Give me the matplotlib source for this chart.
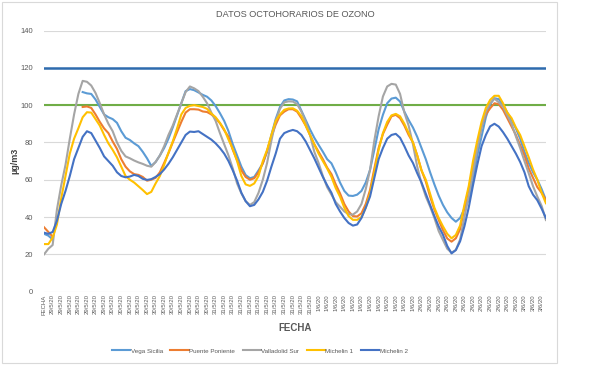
import numpy as np
import matplotlib
matplotlib.use("Agg")
import matplotlib.pyplot as plt
from matplotlib.patches import Rectangle

nan = np.nan

# Hourly 8-hour ozone averages, ug/m3 (first row of the sheet is labelled "FECHA")
days = [("29/5/20", 15), ("30/5/20", 24), ("31/5/20", 24),
        ("1/6/20", 24), ("2/6/20", 24), ("3/6/20", 6)]

vega_sicilia = [
    31, 30, 28, nan, nan, nan, nan, nan, nan, 107,
    106.3, 106, 103, 99, 95, 93.5, 92.5, 90.5, 86, 82.5,
    81.3, 79.5, 78, 75, 71.5, 67.4, 69.5, 73, 77, 82,
    88, 94.5, 101, 107.5, 108.6, 108, 106.8, 105.5, 104.5, 102.5,
    99.5, 95.7, 91.5, 86, 79, 73, 67, 62.5, 60.8, 61.5,
    65, 68.8, 75, 84, 92.5, 99, 102.5, 103.2, 103, 102,
    97, 92, 87, 82.5, 78.7, 75, 71, 68.8, 64, 58.5,
    54, 51.5, 51.3, 52, 54, 58.5, 65.3, 76, 87, 94.8,
    101, 103.5, 104, 101.9, 96.5, 92, 88, 83, 77, 71,
    64, 57.5, 51.5, 46.5, 42.5, 39.5, 37.5, 39.5, 44.5, 49.2,
    60, 73, 83.2, 93.5, 100.5, 103.7, 103.2, 100, 96, 92,
    87.5, 82, 75, 69, 64, 60, 55, 49.2]

puente_poniente = [
    34.5, 32, 29.5, nan, nan, nan, nan, nan, nan, 99,
    99.3, 98.5, 95, 91, 87.5, 85, 80.5, 76.5, 71, 67,
    64.5, 63, 62.6, 61.5, 59.5, 60, 61, 64, 69, 74.2,
    80, 85.5, 91, 96, 97.8, 97.8, 97.6, 96.6, 96.3, 95,
    93, 90.3, 86.5, 83, 76, 70.5, 65, 61.5, 60, 60.8,
    64, 68.8, 75.5, 83, 89.5, 94.5, 96.5, 97.8, 97.8, 96.5,
    93, 89, 84, 79, 75, 71, 66.5, 63, 57.5, 52.7,
    47, 43, 40.5, 40.3, 42, 47, 54.5, 66, 77, 84.5,
    89.5, 94, 94.8, 93, 89, 84, 80, 73, 65, 59,
    51, 44, 38.5, 33, 28.5, 26.8, 28.6, 33.5, 45, 55,
    66.5, 77.5, 88.5, 95, 98.3, 101, 100.5, 97.5, 93, 88.5,
    84, 78.5, 73, 66, 61, 56, 53, 49.2]

valladolid_sur = [
    20, 23, 25, 44, 57, 68, 82, 95, 106, 113,
    112.5, 110.5, 106.5, 101, 95, 90, 86, 80, 75.5, 72.5,
    71.5, 70.3, 69.3, 68.5, 67.5, 67, 69.5, 73, 78, 84,
    89, 95, 101, 107, 110, 109, 107.5, 104.5, 101, 96,
    91.5, 85, 79, 73, 66, 58, 52.7, 48.5, 46.5, 48,
    53, 60, 69, 81, 91.5, 98, 101.5, 102, 101.9, 100.5,
    96.5, 91, 84, 75, 69, 62, 56, 52, 48, 45.5,
    43, 41.5, 41.3, 43, 47, 55, 65.3, 81, 94, 104.6,
    110, 111.4, 111, 106, 96, 89, 79, 67, 58, 51,
    45.6, 39.5, 32.5, 27.7, 23, 20.9, 22.3, 28, 40, 51,
    64, 77, 88, 96.5, 101, 103.5, 101.5, 99.2, 94.5, 90,
    83.2, 77, 70, 63.4, 56.5, 51, 46, 38.4]

michelin_1 = [
    25.5, 25.5, 29, 36, 50, 62, 74, 82, 87.6, 93.5,
    96.2, 96, 92.5, 89, 84, 79.5, 76, 72, 67, 62,
    60, 58.5, 56.5, 54.5, 52.3, 53.5, 58, 62, 68, 74.5,
    80.5, 87.5, 95, 98.5, 99.6, 100, 99.5, 99, 98, 95.5,
    93.5, 90.5, 87, 81.5, 76.5, 70, 62, 57.5, 56.7, 58,
    62, 70, 76, 84, 91.5, 95, 97.5, 98.2, 98.3, 97,
    94, 89, 84, 79, 74, 70, 66, 61.5, 55.5, 50.9,
    45, 40.5, 38.5, 38.5, 40, 45, 52.7, 64, 76, 85,
    91, 94.5, 95.3, 94, 90, 85, 80, 73, 65, 60,
    52.5, 45, 39.5, 35, 31, 28.6, 30.4, 35.5, 46.5, 56.5,
    70, 81, 91, 98.5, 102.8, 105, 105, 101, 96, 93,
    88, 84, 78, 72, 65.5, 60, 53, 47.4]

michelin_2 = [
    31.6, 31, 32, 38, 47, 54, 62, 71, 77, 83,
    86, 85, 81, 77, 72.5, 70, 67.5, 64, 62, 61.3,
    61.7, 62.6, 62, 60.5, 59.9, 60.3, 61.5, 63, 65.5, 68.5,
    72, 76, 80, 84, 85.8, 85.6, 86, 84.5, 83, 81.5,
    79.5, 77, 74, 70, 65, 59.5, 53, 48.5, 45.8, 46.5,
    49.5, 53.5, 59.5, 67, 74, 82, 85, 86, 86.7, 86,
    84, 80.5, 76, 71.5, 66.5, 61.5, 57, 53, 47, 43,
    39.5, 36.8, 35.4, 36, 39.5, 45, 51, 61, 71, 77,
    82, 84, 84.6, 82.5, 78, 73, 69, 63.5, 58.5, 52.5,
    46.5, 40.5, 35, 30.5, 24.5, 20.5, 22.3, 27, 35, 45,
    57, 68, 78, 84, 88.6, 90, 88.5, 85.5, 82, 78,
    74, 69.5, 64, 56.5, 52, 49, 44.5, 39.5]

series = [
    ("Vega Sicilia", vega_sicilia, "#5B9BD5"),
    ("Puente Poniente", puente_poniente, "#ED7D31"),
    ("Valladolid Sur", valladolid_sur, "#A5A5A5"),
    ("Michelin 1", michelin_1, "#FFC000"),
    ("Michelin 2", michelin_2, "#4472C4"),
]

# thresholds drawn as straight lines
umbral_info = 120
valor_objetivo = 100

categories = ["FECHA"]
for d, n in days:
    categories += [d] * n

plt.rcParams["font.family"] = ["Liberation Sans", "DejaVu Sans"]
grey = "#595959"

fig = plt.figure(figsize=(6.12, 3.72), dpi=100)
fig.patches.append(Rectangle((0.004, 0.024), 0.906, 0.97, transform=fig.transFigure,
                             fill=False, edgecolor="#D9D9D9", linewidth=0.8))
ax = fig.add_axes([0.072, 0.216, 0.82, 0.702])

x = np.arange(len(categories))
ax.axhline(umbral_info, color="#2E6BAE", linewidth=1.8, zorder=1)
ax.axhline(valor_objetivo, color="#70AD47", linewidth=1.5, zorder=1)
for name, vals, col in series:
    ax.plot(x, vals, color=col, linewidth=1.5, label=name, zorder=2)

ax.set_xlim(0, len(categories) - 1)
ax.set_ylim(0, 140)
ax.set_yticks(range(0, 141, 20))
ax.set_xticks(x[::2])
ax.set_xticklabels(categories[::2], rotation=90, fontsize=4.3, color=grey)
ax.tick_params(axis="y", labelsize=5.5, colors=grey, length=0, pad=8)
ax.tick_params(axis="x", length=0, pad=2)
ax.grid(axis="y", color="#D9D9D9", linewidth=0.8)
ax.set_axisbelow(True)
for s in ax.spines.values():
    s.set_visible(False)

ax.set_title("DATOS OCTOHORARIOS DE OZONO", fontsize=6.6, color=grey, pad=10)
ax.set_xlabel("FECHA", fontsize=7, fontweight="bold", color=grey, labelpad=6)
ax.set_ylabel("µg/m3", fontsize=6.5, fontweight="bold", color="#404040", labelpad=1)

ax.legend(loc="upper center", bbox_to_anchor=(0.43, -0.195), ncol=5, frameon=False,
          fontsize=4.5, labelcolor=grey, handlelength=2.9, columnspacing=1.2,
          handletextpad=0.1)

fig.savefig("out.png", dpi=100)
